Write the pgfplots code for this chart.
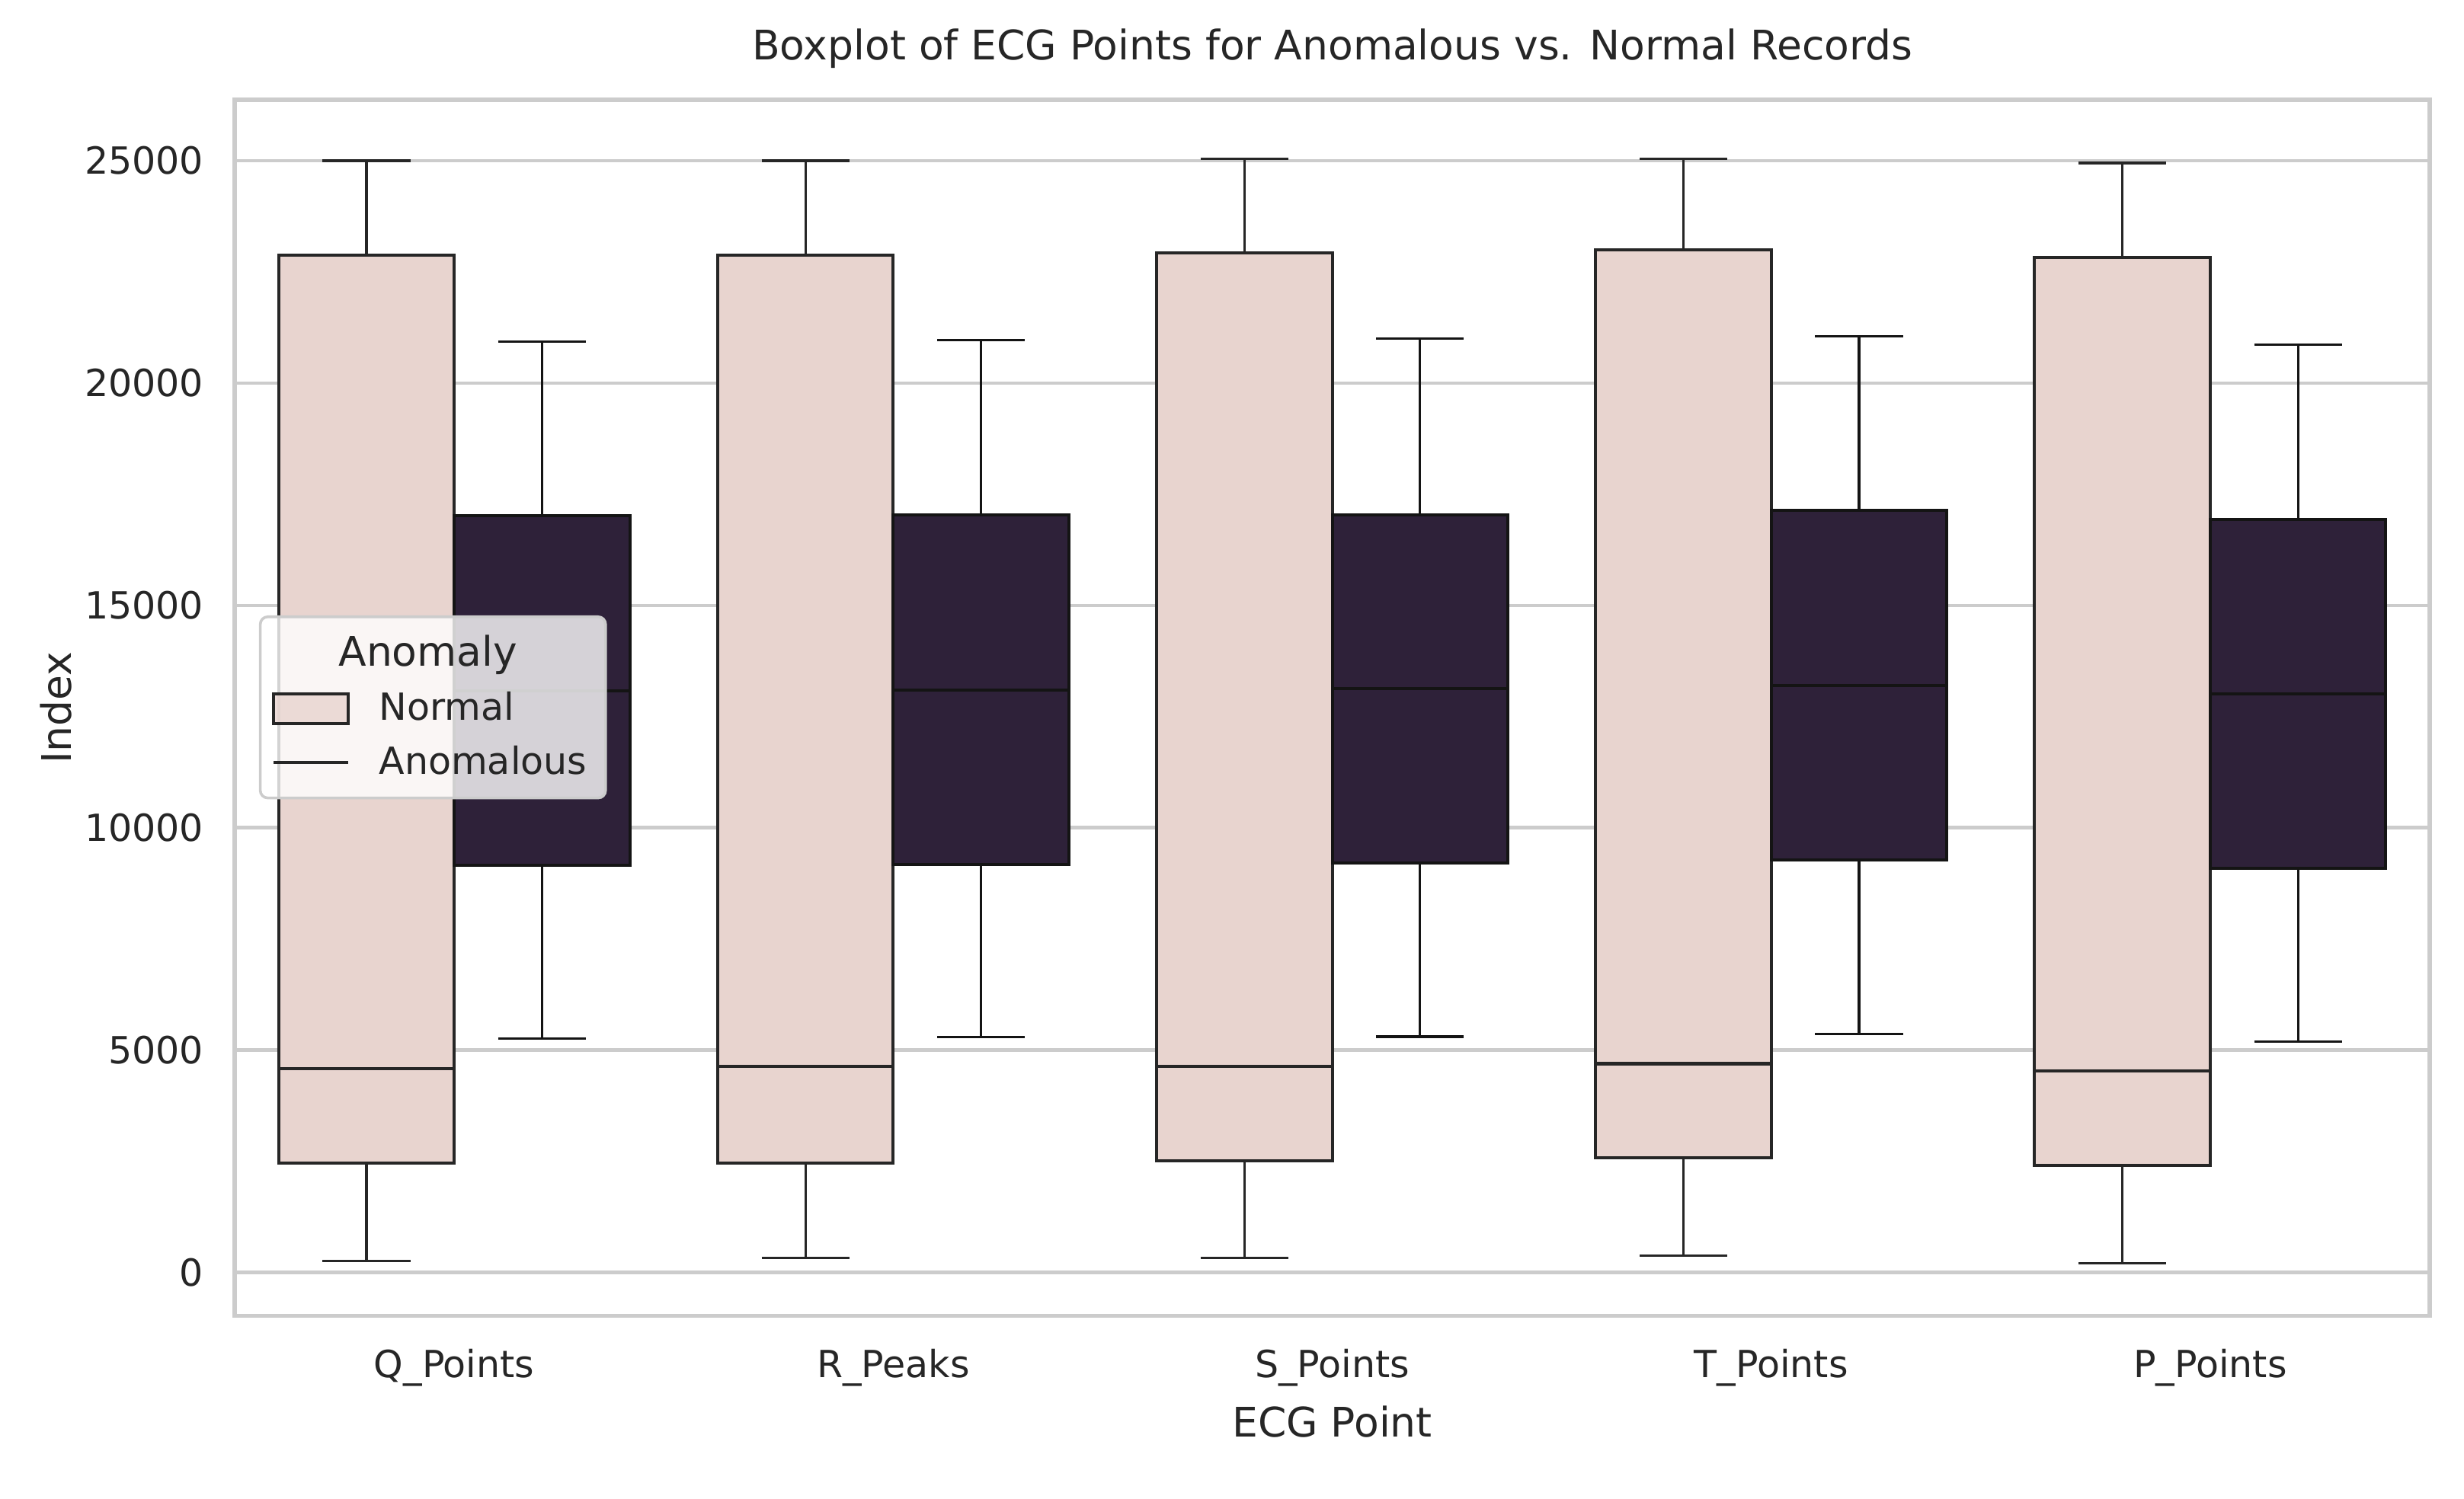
\documentclass[border=0pt]{standalone}
\usepackage{fontspec}
\setmainfont{DejaVu Sans}
\usepackage{pgfplots}
\pgfplotsset{compat=1.18}
\usepgfplotslibrary{statistics}

\definecolor{normalc}{HTML}{E8D4CF}
\definecolor{anomc}{HTML}{2E2139}
\definecolor{linec}{HTML}{262626}
\definecolor{gridc}{HTML}{CCCCCC}
\definecolor{textc}{HTML}{262626}

\pgfplotsset{
  nbox/.style={fill=normalc, draw=linec, line width=0.9pt, forget plot},
  abox/.style={fill=anomc, draw=black!92, line width=0.9pt, forget plot},
}

\begin{document}
\begin{tikzpicture}
\begin{axis}[
    width=646pt, height=358pt, scale only axis,
    xmin=-0.5, xmax=4.5,
    ymin=-980, ymax=26370,
    xtick={0,1,2,3,4},
    xticklabels={Q\_Points, R\_Peaks, S\_Points, T\_Points, P\_Points},
    ytick={0,5000,10000,15000,20000,25000},
    scaled y ticks=false,
    /pgf/number format/assume math mode=true,
    yticklabel={\pgfmathprintnumber[fixed, 1000 sep={}]{\tick}},
    major tick length=0pt,
    ymajorgrids,
    grid style={gridc, line width=1pt},
    axis line style={gridc, line width=1.25pt},
    tick label style={font=\fontsize{11}{13}\selectfont, text=textc, inner sep=0pt},
    xticklabel style={anchor=base, yshift=-18.2pt},
    yticklabel style={anchor=east, xshift=-9pt},
    title={Boxplot of ECG Points for Anomalous vs. Normal Records},
    title style={font=\fontsize{12}{14}\selectfont, text=textc, inner sep=0pt,
                 at={(axis description cs:0.5,1.0162)}, anchor=base},
    xlabel={ECG Point},
    xlabel style={font=\fontsize{12}{14}\selectfont, text=textc, inner sep=0pt,
                  at={(axis description cs:0.5,-0.0997)}, anchor=base},
    ylabel={Index},
    ylabel style={font=\fontsize{12}{14}\selectfont, text=textc, inner sep=0pt,
                  at={(axis description cs:-0.0746,0.5)}, anchor=base},
    boxplot/draw direction=y,
    boxplot/box extend=0.4,
    boxplot/whisker extend=0.2,
    boxplot/every whisker/.style={line width=0.7pt},
    legend style={at={(0.011,0.576)}, anchor=north west,
                  draw=gridc, fill=white, fill opacity=0.8, text opacity=1,
                  rounded corners=2.2pt, line width=0.8pt,
                  font=\fontsize{11}{13}\selectfont, text=textc,
                  inner xsep=3.5pt, inner ysep=3.5pt, row sep=2pt},
    legend cell align=left,
]
% Normal
\addplot[nbox, boxplot prepared={draw position=-0.2, lower whisker=257, lower quartile=2449, median=4589, upper quartile=22877, upper whisker=25000}] coordinates {};
\addplot[nbox, boxplot prepared={draw position=0.8, lower whisker=325, lower quartile=2449, median=4640, upper quartile=22877, upper whisker=25000}] coordinates {};
\addplot[nbox, boxplot prepared={draw position=1.8, lower whisker=325, lower quartile=2510, median=4630, upper quartile=22925, upper whisker=25045}] coordinates {};
\addplot[nbox, boxplot prepared={draw position=2.8, lower whisker=377, lower quartile=2568, median=4692, upper quartile=22996, upper whisker=25051}] coordinates {};
\addplot[nbox, boxplot prepared={draw position=3.8, lower whisker=205, lower quartile=2397, median=4521, upper quartile=22825, upper whisker=24949}] coordinates {};
% Anomalous
\addplot[abox, boxplot prepared={draw position=0.2, lower whisker=5250, lower quartile=9161, median=13083, upper quartile=17015, upper whisker=20937}] coordinates {};
\addplot[abox, boxplot prepared={draw position=1.2, lower whisker=5290, lower quartile=9170, median=13090, upper quartile=17030, upper whisker=20960}] coordinates {};
\addplot[abox, boxplot prepared={draw position=2.2, lower whisker=5300, lower quartile=9200, median=13130, upper quartile=17040, upper whisker=21000}] coordinates {};
\addplot[abox, boxplot prepared={draw position=3.2, lower whisker=5359, lower quartile=9270, median=13192, upper quartile=17135, upper whisker=21046}] coordinates {};
\addplot[abox, boxplot prepared={draw position=4.2, lower whisker=5185, lower quartile=9085, median=13007, upper quartile=16928, upper whisker=20871}] coordinates {};

\addlegendimage{empty legend}
\addlegendentry{\hspace*{-11.9pt}\fontsize{12}{14}\selectfont Anomaly\rule[-5.8pt]{0pt}{1pt}}
\addlegendimage{legend image code/.code={\draw[sharp corners, fill=normalc, draw=linec, line width=0.9pt] (0pt,-4.4pt) rectangle (22pt,4.4pt); \path[draw=none, fill=none] (0pt,0pt) -- (29pt,0pt);}}
\addlegendentry{Normal}
\addlegendimage{legend image code/.code={\draw[linec, line width=0.9pt] (0pt,0pt) -- (22pt,0pt); \path[draw=none, fill=none] (0pt,0pt) -- (29pt,0pt);}}
\addlegendentry{Anomalous}
\end{axis}
\pgfresetboundingbox
\path (current axis.south west) ++(-69.1pt,-53.8pt) coordinate (bl);
\path (current axis.north east) ++(10.1pt,29.4pt) coordinate (tr);
\useasboundingbox (bl) rectangle (tr);
\end{tikzpicture}
\end{document}
